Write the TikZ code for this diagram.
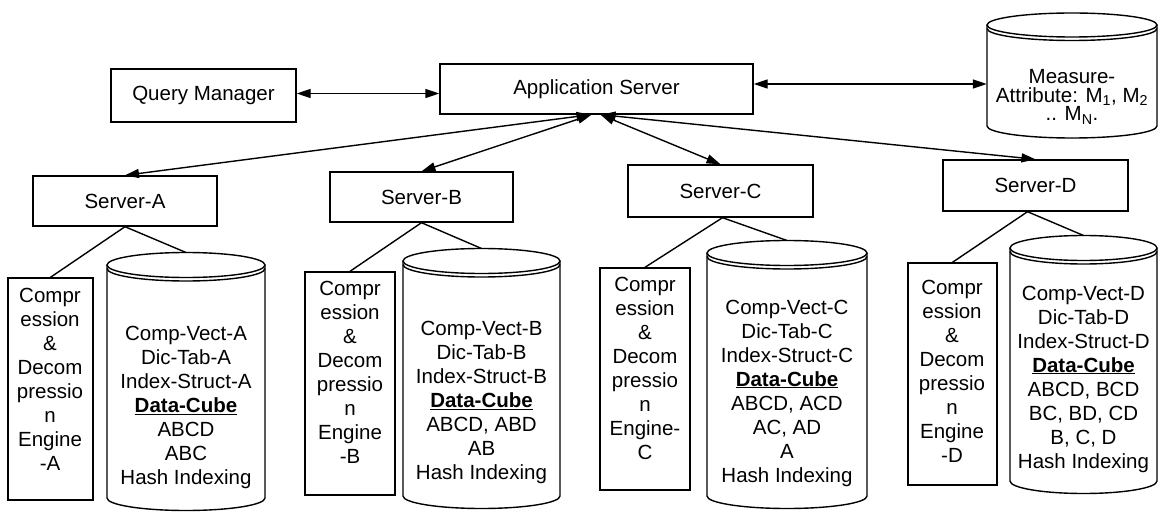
\documentclass[tikz,border=0pt]{standalone}
\usepackage{fontspec}
\setmainfont{Liberation Sans}
\usetikzlibrary{arrows.meta}

\tikzset{
  ink/.style={line width=1.4pt, draw=black},
  box/.style={ink, rectangle, inner sep=0pt, align=center},
  txt/.style={inner sep=0pt, align=center},
  arr/.style={ink, {Triangle[length=14pt,width=9pt]}-{Triangle[length=14pt,width=9pt]}},
  tie/.style={ink},
}

% database drum: #1 name, #2 left x, #3 right x, #4 cap centre y, #5 y where the sides end, #6 cap half-height
\newcommand\drum[6]{%
  \pgfmathsetmacro\drumcx{(#2+#3)/2}%
  \pgfmathsetmacro\drumrx{(#3-#2)/2}%
  \pgfmathsetmacro\drumw{#3-#2}%
  \pgfmathsetmacro\drumh{#5-#4}%
  \pgfmathsetmacro\drumcy{(#4+#5)/2}%
  \draw[ink] (#2,#4) -- (#2,#5) arc[start angle=180,end angle=360,x radius=\drumrx pt,y radius=#6pt] -- (#3,#4);
  \draw[ink] (\drumcx,#4) ellipse[x radius=\drumrx pt,y radius=#6pt];
  \draw[ink] (#2,#4+3.5) arc[start angle=180,end angle=360,x radius=\drumrx pt,y radius=#6pt];
  \node[inner sep=0pt, minimum width=\drumw pt, minimum height=\drumh pt] (#1) at (\drumcx,\drumcy) {};
  \coordinate (#1top) at (\drumcx,#4-#6);
}

\begin{document}
\begin{tikzpicture}[x=1pt, y=-1pt, font=\fontsize{20.5}{24}\selectfont]
\useasboundingbox (0,0) rectangle (1164,513);

% top row
\node[box, minimum width=185pt, minimum height=53pt] (qm) at (203.5,95.5) {Query Manager};
\node[box, minimum width=313pt, minimum height=50pt] (app) at (596.5,89) {Application Server};
\drum{meas}{987}{1157}{25}{126}{12}
\node[txt, font=\fontsize{20.5}{18.5}\selectfont] (meastxt) at (1072,97)
  {Measure-\\Attribute: M\textsubscript{1}, M\textsubscript{2}\\.. M\textsubscript{N}.};

% server row
\node[box, minimum width=184pt, minimum height=50pt] (srvA) at (125,201) {Server-A};
\node[box, minimum width=183pt, minimum height=50pt] (srvB) at (421.5,197) {Server-B};
\node[box, minimum width=185pt, minimum height=52pt] (srvC) at (720.5,191) {Server-C};
\node[box, minimum width=185pt, minimum height=51pt] (srvD) at (1035.5,185.5) {Server-D};

% compression engines
\node[box, minimum width=85pt, minimum height=222pt] (cmpA) at (50.5,389) {};
\node[txt] (cmpAtxt) at (50,379) {Compr\\ession\\\&\\Decom\\pressio\\n\\Engine\\-A};
\node[box, minimum width=90pt, minimum height=223pt] (cmpB) at (350,383.5) {};
\node[txt] (cmpBtxt) at (350,372.5) {Compr\\ession\\\&\\Decom\\pressio\\n\\Engine\\-B};
\node[box, minimum width=90pt, minimum height=222pt] (cmpC) at (645,379) {};
\node[txt] (cmpCtxt) at (645,368) {Compr\\ession\\\&\\Decom\\pressio\\n\\Engine-\\C};
\node[box, minimum width=89pt, minimum height=222pt] (cmpD) at (952.5,374) {};
\node[txt] (cmpDtxt) at (952,371.5) {Compr\\ession\\\&\\Decom\\pressio\\n\\Engine\\-D};

% data stores
\drum{dbA}{107}{265}{265}{498}{12.5}
\node[txt] (dbAtxt) at (186,407.5) {Comp-Vect-A\\Dic-Tab-A\\Index-Struct-A\\\textbf{\underline{Data-Cube}}\\ABCD\\ABC\\Hash Indexing};
\drum{dbB}{403}{560}{261}{496}{12.5}
\node[txt] (dbBtxt) at (481.5,402.5) {Comp-Vect-B\\Dic-Tab-B\\Index-Struct-B\\\textbf{\underline{Data-Cube}}\\ABCD, ABD\\AB\\Hash Indexing};
\drum{dbC}{707}{867}{253}{496}{12.5}
\node[txt] (dbCtxt) at (787,393) {Comp-Vect-C\\Dic-Tab-C\\Index-Struct-C\\\textbf{\underline{Data-Cube}}\\ABCD, ACD\\AC, AD\\A\\Hash Indexing};
\drum{dbD}{1010}{1157}{248}{481}{12.5}
\node[txt] (dbDtxt) at (1083.5,379) {Comp-Vect-D\\Dic-Tab-D\\Index-Struct-D\\\textbf{\underline{Data-Cube}}\\ABCD, BCD\\BC, BD, CD\\B, C, D\\Hash Indexing};

% links in the top row
\draw[arr] ([yshift=2pt]qm.east) -- ([yshift=2pt]qm.east -| app.west);
\draw[arr] ([yshift=5pt]app.east) -- ([yshift=5pt]app.east -| meas.west);

% application server to each server
\draw[arr] ([xshift=-6pt]app.south) -- (srvA.north);
\draw[arr] ([xshift=-5pt]app.south) -- (srvB.north);
\draw[arr] ([xshift=4pt]app.south) -- (srvC.north);
\draw[arr] ([xshift=5pt]app.south) -- (srvD.north);

% each server to its engine and its store
\draw[tie] (srvA.south) -- (cmpA.north);
\draw[tie] (srvA.south) -- (dbAtop);
\draw[tie] (srvB.south) -- (cmpB.north);
\draw[tie] (srvB.south) -- (dbBtop);
\draw[tie] ([xshift=2pt]srvC.south) -- (cmpC.north);
\draw[tie] ([xshift=2pt]srvC.south) -- (dbCtop);
\draw[tie] ([xshift=-8pt]srvD.south) -- (cmpD.north);
\draw[tie] ([xshift=-8pt]srvD.south) -- (dbDtop);
\end{tikzpicture}
\end{document}
